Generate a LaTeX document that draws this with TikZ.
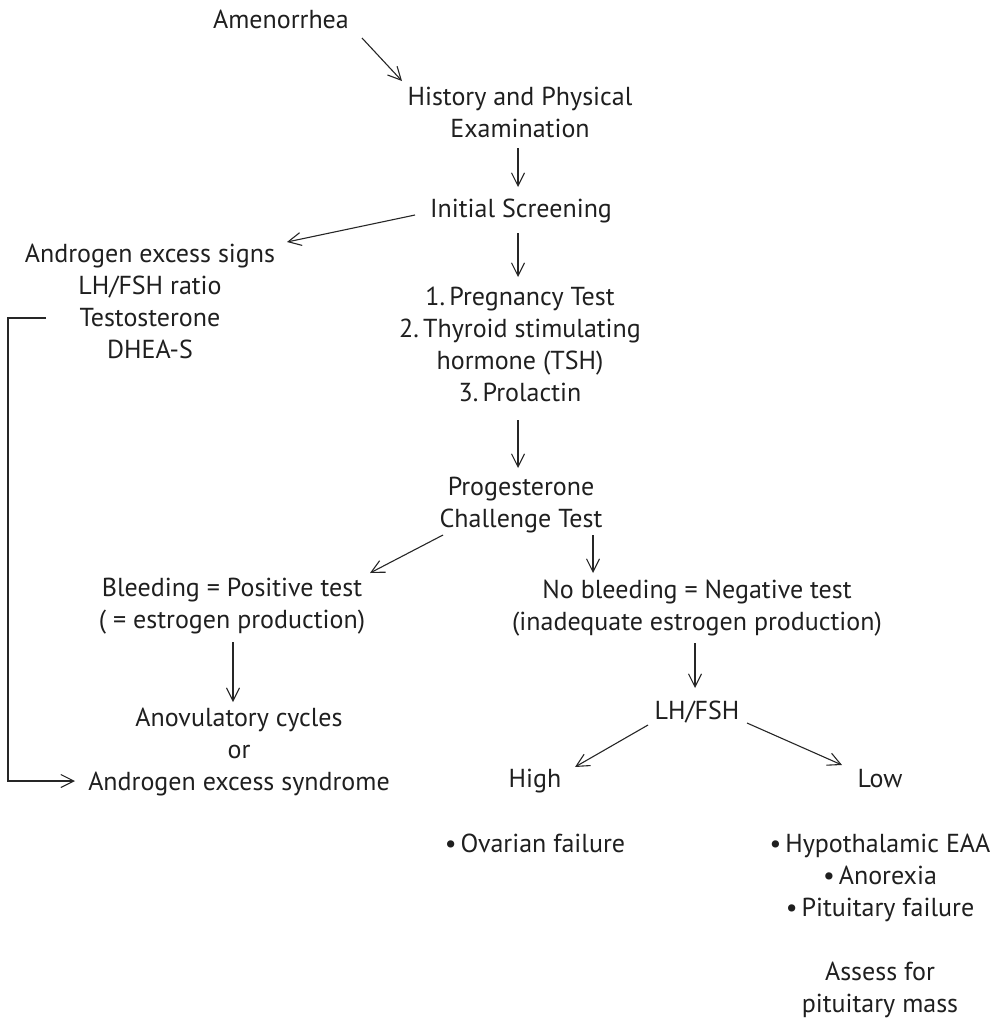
\documentclass[tikz,border=0pt]{standalone}
\usepackage{fontspec}
\setmainfont{PT Sans}
\usetikzlibrary{calc,arrows.meta}

\tikzset{
  txt/.style={anchor=base, inner sep=0pt, align=center, text=black!88,
    font=\fontsize{26}{32}\selectfont},
  link/.style={-{Straight Barb[length=13pt,width=13pt]}, line width=1.1pt, draw=black!85}
}
\newcommand{\bul}{\textbullet\hspace{4pt}}

\begin{document}
\begin{tikzpicture}[x=1pt,y=1pt,yscale=-1]
\useasboundingbox (0,0) rectangle (999,1018);

% Text Node (placed at the baseline of the last line)
\node [txt] (amen) at (281,28) {Amenorrhea};
\node [txt] (hist) at (520,137) {History and Physical\\Examination};
\node [txt] (init) at (521,217) {Initial Screening};
\node [txt] (andr) at (150,358) {Androgen excess signs\\LH/FSH ratio\\Testosterone\\DHEA-S};
\node [txt] (tests) at (520,401) {1.\,Pregnancy Test\\2.\,Thyroid stimulating\\hormone (TSH)\\3.\,Prolactin};
\node [txt] (prog) at (521,527) {Progesterone\\Challenge Test};
\node [txt] (bleed) at (232,628) {Bleeding = Positive test\\( = estrogen production)};
\node [txt] (nobleed) at (697,630) {No bleeding = Negative test\\(inadequate estrogen production)};
\node [txt] (anov) at (239,790) {Anovulatory cycles\\or\\Androgen excess syndrome};
\node [txt] (lhfsh) at (697,719) {LH/FSH};
\node [txt] (high) at (535,787) {High};
\node [txt] (low) at (880,787) {Low};
\node [txt] (ovar) at (535,852) {\bul Ovarian failure};
\node [txt] (hypo) at (880,916) {\bul Hypothalamic EAA\\\bul Anorexia\\\bul Pituitary failure};
\node [txt] (mass) at (880,1012) {Assess for\\pituitary mass};

% Arrows
\draw [link] ($(amen.base)+(81,10)$) -- ($(hist.base)+(-118,-56)$);
\draw [link] ($(hist.base)+(-2,11)$) -- ($(init.base)+(-3,-30)$);
\draw [link] ($(init.base)+(-106,-2)$) -- ($(andr.base)+(137,-116)$);
\draw [link] ($(init.base)+(-3,16)$) -- ($(tests.base)+(-2,-124)$);
\draw [link] ($(tests.base)+(-2,19)$) -- ($(prog.base)+(-3,-59)$);
\draw [link] ($(prog.base)+(-78,8)$) -- ($(bleed.base)+(138,-55)$);
\draw [link] ($(prog.base)+(72,8)$) -- ($(nobleed.base)+(-104,-57)$);
\draw [link] ($(bleed.base)+(1,14)$) -- ($(anov.base)+(-6,-88)$);
\draw [link] ($(nobleed.base)+(-2,13)$) -- ($(lhfsh.base)+(-2,-31)$);
\draw [link] ($(lhfsh.base)+(-49,6)$) -- ($(high.base)+(40,-20)$);
\draw [link] ($(lhfsh.base)+(50,4)$) -- ($(low.base)+(-38,-22)$);
\draw [link] ($(andr.base)+(-104,-40)$) -- ++(-38,0) |- ($(anov.base)+(-164,-9)$);

\end{tikzpicture}
\end{document}
